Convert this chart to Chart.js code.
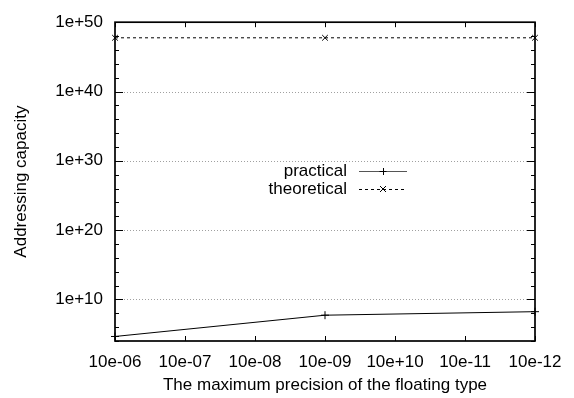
<!DOCTYPE html>
<html>
<head>
<meta charset="utf-8">
<script src="https://cdn.jsdelivr.net/npm/chart.js@4/dist/chart.umd.min.js"></script>
<style>
html,body{margin:0;padding:0;background:#fff;}
#wrap{width:574px;height:398px;position:relative;}
</style>
</head>
<body>
<div id="wrap"><canvas id="c" width="574" height="398"></canvas></div>
<script>
const categories = ["10e-06","10e-07","10e-08","10e-09","10e+10","10e-11","10e-12"];
const practical = [4.5e4, null, null, 5.3e7, null, null, 1.7e8];
const theoretical = [5.6e47, null, null, 5.6e47, null, null, 5.6e47];
const yMajorTicks = [1e10, 1e20, 1e30, 1e40, 1e50];
const yMin = 1e4, yMax = 1e50;
const seriesNames = ["practical", "theoretical"];

const FONT = '"Liberation Sans", Arial, sans-serif';

const framePlugin = {
  id: 'frame',
  beforeDatasetsDraw(chart) {
    const ctx = chart.ctx, a = chart.chartArea;
    const y = chart.scales.y, x = chart.scales.x;
    ctx.save();
    ctx.strokeStyle = '#a0a0a0';
    ctx.lineWidth = 1;
    ctx.setLineDash([1, 2]);
    yMajorTicks.forEach(v => {
      if (v >= yMax) return;
      const py = Math.round(y.getPixelForValue(v)) + 0.5;
      ctx.beginPath(); ctx.moveTo(a.left, py); ctx.lineTo(a.right, py); ctx.stroke();
    });
    ctx.setLineDash([]);
    ctx.strokeStyle = '#000';
    ctx.lineWidth = 1;
    for (let e = 4; e <= 50; e += 2) {
      const py = Math.round(y.getPixelForValue(Math.pow(10, e))) + 0.5;
      const len = (e % 10 === 0) ? 8 : 4;
      ctx.beginPath();
      ctx.moveTo(a.left, py); ctx.lineTo(a.left + len, py);
      ctx.moveTo(a.right, py); ctx.lineTo(a.right - len, py);
      ctx.stroke();
    }
    categories.forEach((c, i) => {
      const px = Math.round(x.getPixelForValue(i)) + 0.5;
      ctx.beginPath();
      ctx.moveTo(px, a.bottom); ctx.lineTo(px, a.bottom - 5);
      ctx.moveTo(px, a.top); ctx.lineTo(px, a.top + 5);
      ctx.stroke();
    });
    ctx.restore();
  },
  afterDatasetsDraw(chart) {
    const ctx = chart.ctx, a = chart.chartArea;
    ctx.save();
    ctx.strokeStyle = '#000';
    ctx.lineWidth = 1.7;
    ctx.strokeRect(a.left, a.top, a.right - a.left, a.bottom - a.top);
    ctx.font = '17px ' + FONT;
    ctx.fillStyle = '#000';
    ctx.textAlign = 'right';
    ctx.textBaseline = 'middle';
    const rows = [171, 189];
    const x0 = 359, x1 = 407, xm = 383;
    ctx.fillText(seriesNames[0], 347, rows[0]);
    ctx.fillText(seriesNames[1], 347, rows[1]);
    ctx.lineWidth = 1;
    ctx.strokeStyle = '#555';
    ctx.beginPath(); ctx.moveTo(x0, rows[0] + 0.5); ctx.lineTo(x1, rows[0] + 0.5); ctx.stroke();
    ctx.strokeStyle = '#000';
    ctx.beginPath(); ctx.moveTo(xm - 3.5, rows[0] + 0.5); ctx.lineTo(xm + 3.5, rows[0] + 0.5);
    ctx.moveTo(xm + 0.5, rows[0] - 3); ctx.lineTo(xm + 0.5, rows[0] + 4); ctx.stroke();
    ctx.setLineDash([3, 3]);
    ctx.beginPath(); ctx.moveTo(x0, rows[1] + 0.5); ctx.lineTo(x1, rows[1] + 0.5); ctx.stroke();
    ctx.setLineDash([]);
    ctx.beginPath(); ctx.moveTo(xm - 3, rows[1] - 3); ctx.lineTo(xm + 3, rows[1] + 3);
    ctx.moveTo(xm - 3, rows[1] + 3); ctx.lineTo(xm + 3, rows[1] - 3); ctx.stroke();
    ctx.restore();
  }
};

new Chart(document.getElementById('c'), {
  type: 'line',
  data: {
    labels: categories,
    datasets: [
      {
        label: seriesNames[0], data: practical, spanGaps: true,
        borderColor: '#000', borderWidth: 1, tension: 0,
        pointStyle: 'cross', pointRadius: 4, pointBorderColor: '#000', pointBorderWidth: 1,
        pointBackgroundColor: '#000'
      },
      {
        label: seriesNames[1], data: theoretical, spanGaps: true,
        borderColor: '#000', borderWidth: 1, borderDash: [3, 3], tension: 0,
        pointStyle: 'crossRot', pointRadius: 4, pointBorderColor: '#000', pointBorderWidth: 1,
        pointBackgroundColor: '#000'
      }
    ]
  },
  options: {
    responsive: false,
    animation: false,
    layout: { padding: { top: 16, right: 39, left: 0, bottom: 0 } },
    plugins: { legend: { display: false }, tooltip: { enabled: false } },
    scales: {
      x: {
        type: 'category', offset: false,
        grid: { display: false, drawTicks: false },
        border: { display: false },
        ticks: { color: '#000', font: { family: FONT, size: 17 }, padding: 11, maxRotation: 0, autoSkip: false },
        title: { display: true, text: 'The maximum precision of the floating type', color: '#000',
                 font: { family: FONT, size: 17 }, padding: { top: 0, bottom: 2 } },
        afterFit(s) { s.height = 57; }
      },
      y: {
        type: 'logarithmic', min: yMin, max: yMax,
        grid: { display: false, drawTicks: false },
        border: { display: false },
        afterBuildTicks(s) { s.ticks = yMajorTicks.map(v => ({ value: v })); },
        ticks: {
          color: '#000', font: { family: FONT, size: 17 }, padding: 12,
          callback(v) { return '1e+' + Math.round(Math.log10(v)); }
        },
        title: { display: true, text: 'Addressing capacity', color: '#000',
                 font: { family: FONT, size: 17 }, padding: { top: 11, bottom: 0 } },
        afterFit(s) { s.width = 115; }
      }
    }
  },
  plugins: [framePlugin]
});
</script>
</body>
</html>
